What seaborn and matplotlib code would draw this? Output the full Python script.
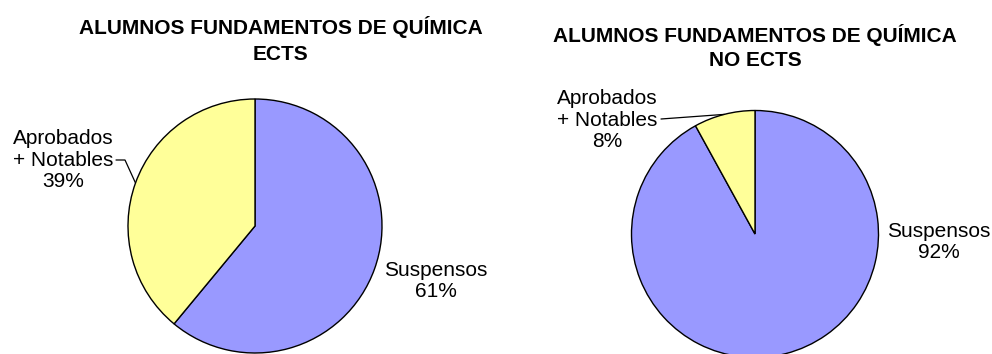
import numpy as np
import matplotlib
matplotlib.use("Agg")
import matplotlib.pyplot as plt
import seaborn as sns

# Course results, percentage of students per outcome
categories = ["Suspensos", "Aprobados\n+ Notables"]
ects_values = [61, 39]
no_ects_values = [92, 8]
titles = ["ALUMNOS FUNDAMENTOS DE QUÍMICA\nECTS",
          "ALUMNOS FUNDAMENTOS DE QUÍMICA\nNO ECTS"]
colors = ["#9999FF", "#FFFF99"]

sns.set_theme(style="white")
plt.rcParams["font.family"] = ["Liberation Sans", "DejaVu Sans"]

W, H = 992, 354
fig = plt.figure(figsize=(W / 100, H / 100), dpi=100)
fig.patch.set_facecolor("white")


def fpos(x, y):
    """Pixel position (from top-left) to figure fraction."""
    return x / W, 1 - y / H


def pie_axes(cx, cy, r):
    x0, y1 = fpos(cx - r, cy + r)
    return fig.add_axes([x0, y1, 2 * r / W, 2 * r / H])


panels = [
    dict(values=ects_values, title=titles[0], center=(255, 226), r=127,
         title_xy=(281, 40), title_ls=1.45,
         label_xy=[(436, 281), (63, 160)],
         leader=[(116, 160), (125, 160)]),
    dict(values=no_ects_values, title=titles[1], center=(755, 234), r=123.5,
         title_xy=(755, 47), title_ls=1.3,
         label_xy=[(939, 242), (607, 120)],
         leader=[(661, 119)]),
]

for p in panels:
    cx, cy = p["center"]
    ax = pie_axes(cx, cy, p["r"])
    wedges, _ = ax.pie(p["values"], colors=colors, startangle=90,
                       counterclock=False, radius=1,
                       wedgeprops=dict(edgecolor="black", linewidth=1.0))
    ax.set_xlim(-1, 1)
    ax.set_ylim(-1, 1)
    ax.set_aspect("equal")
    ax.axis("off")

    for cat, val, (lx, ly) in zip(categories, p["values"], p["label_xy"]):
        fig.text(*fpos(lx, ly), f"{cat}\n{val}%", ha="center", va="center",
                 fontsize=15, color="black", multialignment="center",
                 linespacing=1.18)

    # leader line from the small-slice label to the middle of its wedge
    w = wedges[1]
    mid = np.deg2rad((w.theta1 + w.theta2) / 2)
    edge = (np.cos(mid), np.sin(mid))
    inv = ax.transData.inverted()
    pts = [inv.transform((x, H - y)) for x, y in p["leader"]] + [edge]
    xs, ys = zip(*pts)
    ax.plot(xs, ys, color="black", linewidth=0.9, clip_on=False)

    fig.text(*fpos(*p["title_xy"]), p["title"], ha="center", va="center",
             fontsize=15, fontweight="bold", color="black",
             linespacing=p["title_ls"])

fig.savefig("out.png", dpi=100)
